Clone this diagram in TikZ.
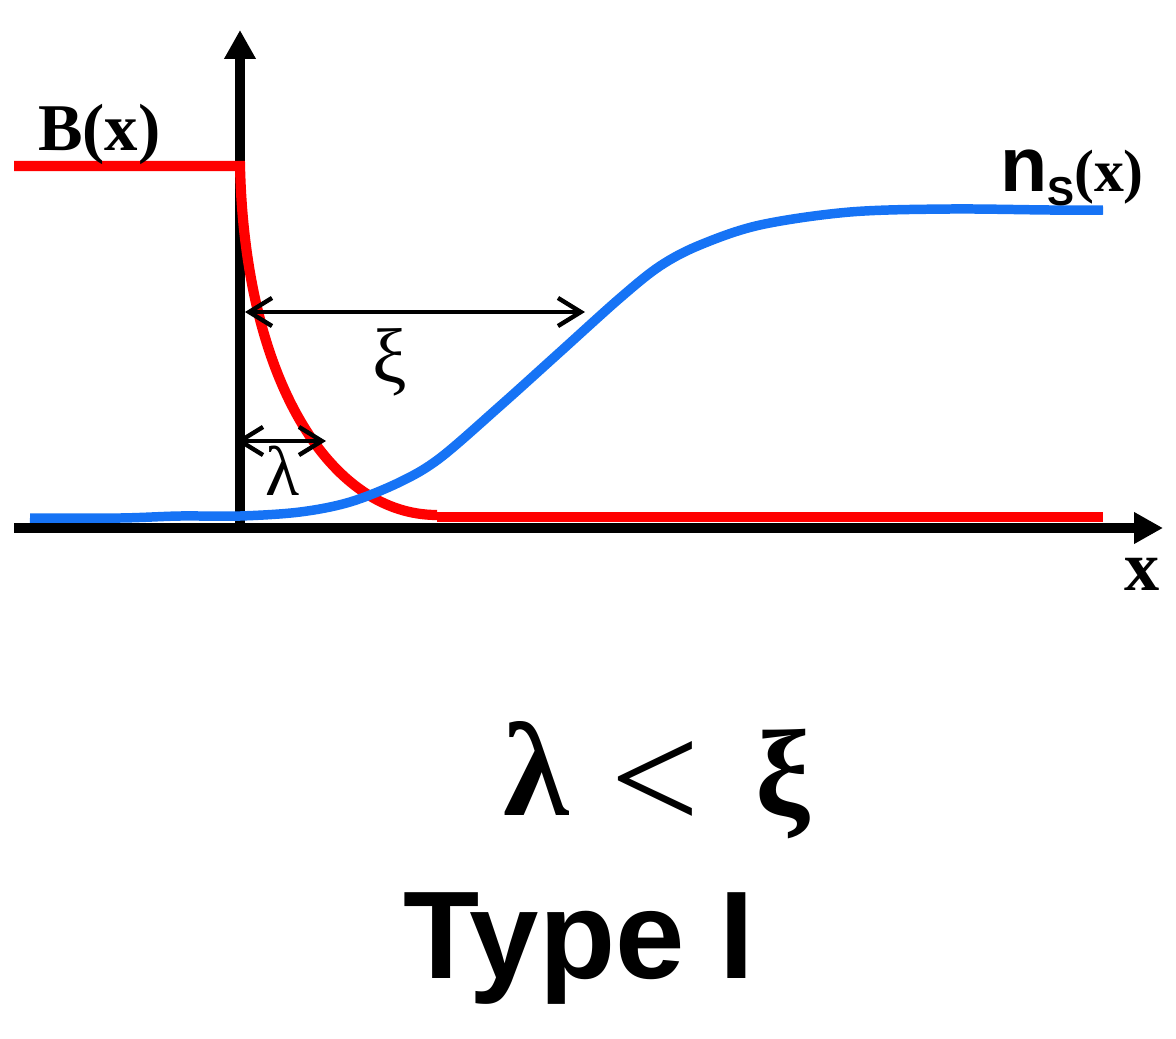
\documentclass[tikz,border=0pt]{standalone}
\usepackage{fontspec}
\setmainfont{Liberation Serif}
\setsansfont{Liberation Sans}
\usetikzlibrary{arrows.meta}
\definecolor{bred}{RGB}{255,0,0}
\definecolor{nblue}{RGB}{22,115,245}
\begin{document}
\begin{tikzpicture}[x=0.02cm,y=-0.02cm,
  axisline/.style={line width=5.5pt,-{Triangle[length=16.5pt,width=17pt]}},
  dimline/.style={line width=2.5pt,{Straight Barb[length=13pt,width=16pt]}-{Straight Barb[length=13pt,width=16pt]}},
  redline/.style={bred,line width=5.8pt},
  blueline/.style={nblue,line width=5.4pt},
  lbl/.style={inner sep=0pt,outer sep=0pt}]
\useasboundingbox (0,0) rectangle (1176,1038);
% axes
\coordinate (xs) at (14,528);
\coordinate (xe) at (1163,528);
\coordinate (ys) at (240,530);
\coordinate (ye) at (240,30);
\draw[axisline] (xs) -- (xe);
\draw[axisline] (ys) -- (ye);
% red field
\draw[redline,line join=miter] (14,166) -- (240,166) .. controls (245,380) and (330,515) .. (437,515);
\draw[redline] (437,517) -- (1103,517);
% blue density
\draw[blueline] plot[smooth,tension=0.55] coordinates {(30,518) (120,518) (180,516) (240,516) (300,512) (350,502) (400,482) (440,458) (500,406) (560,352) (620,298) (660,266) (700,245) (760,225) (850,212) (950,209) (1050,210) (1103,210)};
% dimension arrows
\coordinate (xia) at (245,312);
\coordinate (xib) at (585,312);
\coordinate (laa) at (236,441);
\coordinate (lab) at (326,441);
\draw[dimline] (xia) -- (xib);
\draw[dimline] (laa) -- (lab);
% labels
\node[lbl,anchor=base west] (bx) at (38,150) {\fontsize{38}{38}\selectfont\bfseries B(x)};
\node[lbl,anchor=base west] (ns) at (1000,191) {{\fontsize{44}{44}\selectfont\sffamily\bfseries n}\raisebox{-8pt}{\fontsize{23}{23}\selectfont\sffamily\bfseries S}{\fontsize{34}{34}\selectfont\bfseries(x)}};
\node[lbl,anchor=base west] (xl) at (1124,590) {\fontsize{40}{40}\selectfont\bfseries x};
\node[lbl] (xil) at (390,362) {\fontsize{44}{44}\selectfont ξ};
\node[lbl] (lal) at (283,471) {\fontsize{40}{40}\selectfont λ};
\node[lbl,anchor=base west] (big1) at (503,815) {\fontsize{76}{76}\selectfont\bfseries λ};
\node[lbl,anchor=base west] (big2) at (610,815) {\fontsize{68}{68}\selectfont\raisebox{-9pt}{\scalebox{1.33}[1.3]{<}}};
\node[lbl,anchor=base west] (big3) at (755,815) {\fontsize{70}{70}\selectfont\bfseries ξ};
\node[lbl,anchor=base west] (type) at (403,978) {\fontsize{71}{71}\selectfont\sffamily\bfseries Type I};
\end{tikzpicture}
\end{document}
